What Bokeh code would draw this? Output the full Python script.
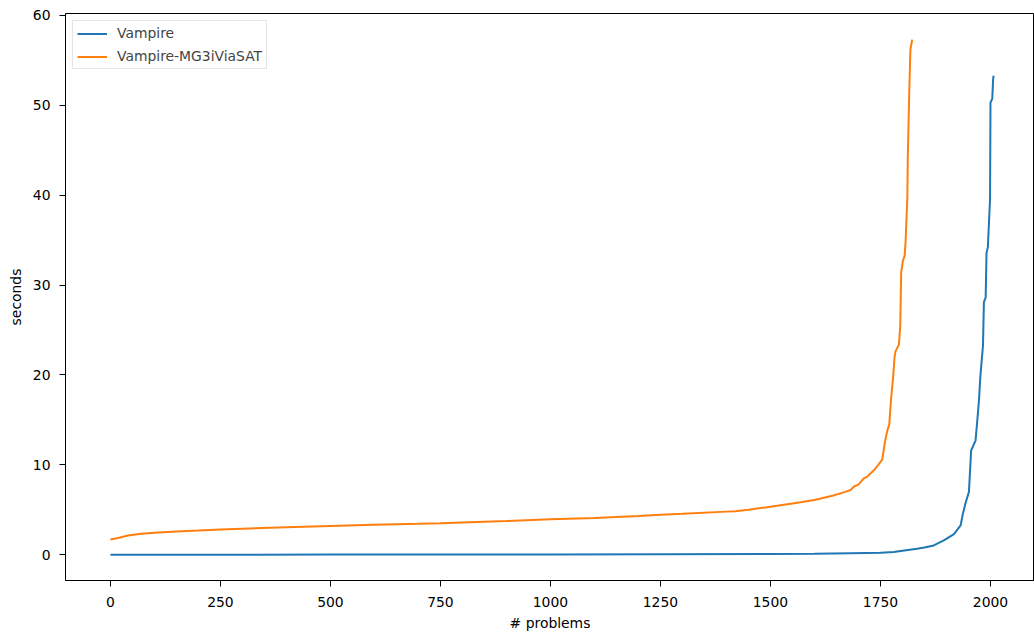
from bokeh.plotting import figure
from bokeh.models import Range1d, FixedTicker, Legend, LegendItem
from bokeh.embed import file_html
from bokeh.resources import INLINE

# --- data ---
vampire_x = [0, 250, 500, 750, 1000, 1250, 1500, 1600, 1682, 1750, 1780, 1800, 1833, 1850,
             1871, 1894, 1917, 1932, 1937, 1943, 1951, 1956, 1966, 1971, 1974, 1977, 1983,
             1985, 1989, 1991, 1994, 1999, 2000, 2004, 2006, 2007]
vampire_y = [0.0, 0.01, 0.02, 0.03, 0.04, 0.06, 0.08, 0.12, 0.18, 0.22, 0.3, 0.45, 0.67, 0.8,
             1.04, 1.6, 2.3, 3.26, 4.5, 5.7, 7.0, 11.6, 12.7, 15.5, 17.3, 19.9, 23.3,
             28.1, 28.6, 33.6, 34.2, 39.6, 50.3, 50.7, 52.9, 53.3]

mg3_x = [0, 20, 40, 70, 100, 150, 200, 250, 300, 400, 500, 600, 700, 750, 800, 900, 1000,
         1100, 1200, 1250, 1300, 1400, 1420, 1450, 1500, 1550, 1600, 1643, 1670, 1682, 1690,
         1700, 1712, 1720, 1735, 1745, 1754, 1760, 1765, 1770, 1774, 1779, 1782, 1784, 1792,
         1795, 1797, 1801, 1805, 1807, 1811, 1812, 1815, 1818, 1822]
mg3_y = [1.7, 1.9, 2.15, 2.35, 2.45, 2.6, 2.7, 2.82, 2.9, 3.05, 3.2, 3.33, 3.45, 3.52, 3.6,
         3.75, 3.95, 4.1, 4.3, 4.45, 4.55, 4.8, 4.85, 5.0, 5.35, 5.7, 6.1, 6.6, 7.0, 7.2, 7.6,
         7.8, 8.5, 8.7, 9.4, 10.0, 10.6, 12.5, 13.7, 14.5, 17.3, 19.9, 22.0, 22.6, 23.4,
         25.5, 31.4, 32.7, 33.3, 34.8, 39.6, 44.0, 50.7, 56.2, 57.3]

x_ticks = [0, 250, 500, 750, 1000, 1250, 1500, 1750, 2000]
y_ticks = [0, 10, 20, 30, 40, 50, 60]

BLUE = "#1f77b4"
ORANGE = "#ff7f0e"
FONT = "DejaVu Sans"
FS = "13.9px"

p = figure(width=1034, height=633, output_backend="svg", toolbar_location=None,
           x_range=Range1d(-102, 2100), y_range=Range1d(-2.86, 60.2),
           min_border_left=65, min_border_right=0, min_border_top=13, min_border_bottom=52)

p.grid.visible = False
p.outline_line_color = "black"
p.outline_line_width = 1
p.background_fill_color = "white"
p.border_fill_color = "white"

r1 = p.line(vampire_x, vampire_y, line_color=BLUE, line_width=2)
r2 = p.line(mg3_x, mg3_y, line_color=ORANGE, line_width=2)

for ax in (p.xaxis[0], p.yaxis[0]):
    ax.axis_line_color = "black"
    ax.major_tick_line_color = "black"
    ax.minor_tick_line_color = None
    ax.major_tick_in = 0
    ax.major_tick_out = 6
    ax.major_label_text_font = FONT
    ax.major_label_text_font_size = FS
    ax.major_label_text_color = "black"
    ax.axis_label_text_font = FONT
    ax.axis_label_text_font_size = FS
    ax.axis_label_text_font_style = "normal"
    ax.axis_label_text_color = "black"

p.xaxis.ticker = FixedTicker(ticks=x_ticks)
p.yaxis.ticker = FixedTicker(ticks=y_ticks)
p.xaxis.axis_label = "# problems"
p.yaxis.axis_label = "seconds"
p.xaxis.major_label_standoff = 10
p.xaxis.axis_label_standoff = 5
p.yaxis.major_label_standoff = 9
p.yaxis.axis_label_standoff = 6

legend = Legend(items=[LegendItem(label="Vampire", renderers=[r1]),
                       LegendItem(label="Vampire-MG3iViaSAT", renderers=[r2])],
                location="top_left", margin=7, padding=4, spacing=7,
                label_height=15, glyph_height=15, glyph_width=30, label_standoff=10,
                label_text_font=FONT, label_text_font_size=FS,
                border_line_color="#cccccc", border_line_width=1,
                background_fill_alpha=0.8)
p.add_layout(legend)

open("out.html", "w").write(file_html(p, INLINE))
